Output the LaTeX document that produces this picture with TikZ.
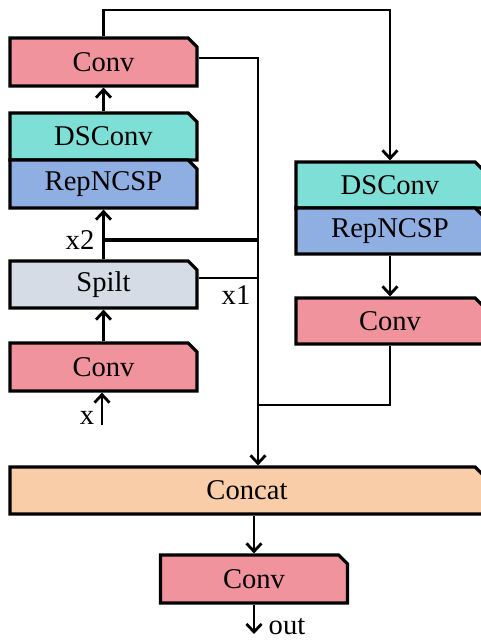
\documentclass[tikz,border=0pt]{standalone}
\usepackage{fontspec}
\setmainfont{Liberation Serif}
\usetikzlibrary{arrows.meta,positioning,calc,shapes.misc}
\definecolor{convcol}{RGB}{240,147,157}
\definecolor{dscol}{RGB}{126,223,214}
\definecolor{repcol}{RGB}{143,174,225}
\definecolor{splitcol}{RGB}{214,220,229}
\definecolor{catcol}{RGB}{248,205,168}
\tikzset{
  blk/.style={chamfered rectangle, chamfered rectangle corners=north east,
    chamfered rectangle xsep=2.2pt, chamfered rectangle ysep=2.2pt,
    draw, line width=1.6pt, inner sep=0pt, minimum width=93.5pt,
    font=\fontsize{14.3}{16}\selectfont},
  wideblk/.style={blk, minimum width=94pt},
  arr/.style={-{Straight Barb[length=4pt,width=7.5pt]}, line width=1.4pt},
  ln/.style={line width=1.3pt},
  lbl/.style={font=\fontsize{14.3}{16}\selectfont, inner sep=0pt},
}
\begin{document}
\begin{tikzpicture}[x=0.5pt, y=-0.5pt]
  \useasboundingbox (0,0) rectangle (481,642);
  % left column
  \node[blk, fill=convcol, minimum height=24pt] (conv1) at (103.5,62) {Conv};
  \node[blk, fill=dscol, minimum height=23.5pt] (dsl) at (103.5,136.5) {DSConv};
  \node[blk, fill=repcol, minimum height=24pt] (repl) at (103.5,184) {RepNCSP};
  \node[blk, fill=splitcol, minimum height=23.5pt] (split) at (103.5,284.5) {Spilt};
  \node[blk, fill=convcol, minimum height=24pt] (conv0) at (103.5,367) {Conv};
  % right column
  \node[wideblk, fill=dscol, minimum height=23pt] (dsr) at (390,185) {DSConv};
  \node[wideblk, fill=repcol, minimum height=23pt] (repr) at (390,231) {RepNCSP};
  \node[wideblk, fill=convcol, minimum height=23pt] (convr) at (390,321) {Conv};
  % bottom
  \node[blk, fill=catcol, minimum width=237pt, minimum height=23.5pt] (concat) at (247,490.5) {Concat};
  \node[blk, fill=convcol, minimum height=24pt] (convout) at (254,579) {Conv};
  % free ends
  \coordinate (xin) at (102,425);
  \coordinate (out) at (254,634);
  \coordinate (top) at (250,10);
  \coordinate (bus) at (258,58);
  \coordinate (jx2) at (104,240);
  \coordinate (jr) at (258,405);
  % main path
  \draw[arr] (xin) -- (xin |- conv0.south);
  \draw[arr] (conv0.north) -- (split.south);
  \draw[arr] (split.north) -- (repl.south);
  \draw[arr] (dsl.north) -- (conv1.south);
  \draw[line width=2pt] (jx2) -- (jx2 -| bus);
  \draw[ln] (split.east |- 0,278) -- (bus |- 0,278);
  \draw[arr] (conv1.east |- bus) -- (bus) -- (bus |- concat.north);
  \draw[arr] (conv1.north) |- (top) -| (dsr.north);
  \draw[arr] (repr.south) -- (convr.north);
  \draw[ln] (convr.south) |- (jr);
  \draw[arr] (convout.north |- concat.south) -- (convout.north);
  \draw[arr] (convout.south) -- (out);
  % labels
  \node[lbl] (lx) at (87,418) {x};
  \node[lbl] (lx2) at (80,240) {x2};
  \node[lbl] (lx1) at (236,295) {x1};
  \node[lbl] (lout) at (287,627) {out};
\end{tikzpicture}
\end{document}
